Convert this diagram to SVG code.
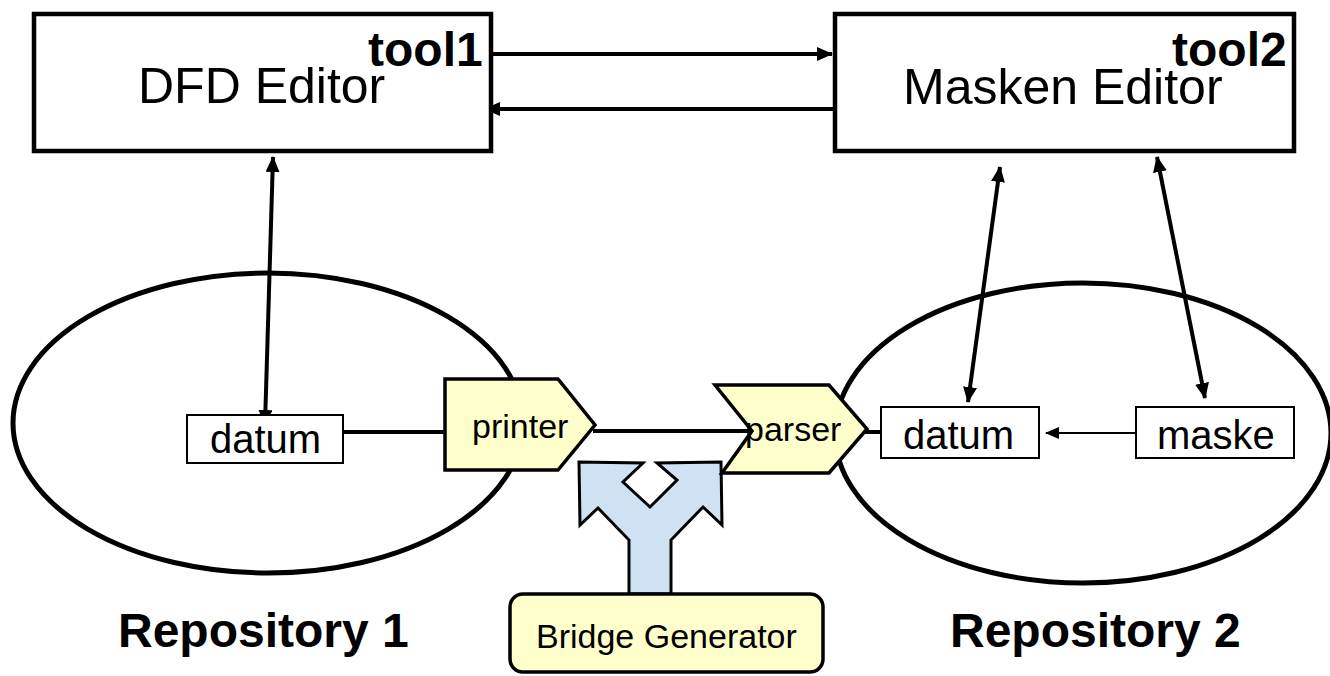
<svg xmlns="http://www.w3.org/2000/svg" width="1330" height="676" viewBox="0 0 1330 676">
<style>
text{font-family:"Liberation Sans",Arial,sans-serif;fill:#000}
.big{fill:#fff;stroke:#000;stroke-width:4.5}
.small{fill:#fff;stroke:#000;stroke-width:2}
.yel{fill:#ffffcc;stroke:#000;stroke-width:3.5;stroke-linejoin:miter}
.repo{fill:none;stroke:#000;stroke-width:5}
.c{stroke:#000;stroke-width:4;fill:none}
.ct{stroke:#000;stroke-width:2;fill:none}
</style>
<defs>
<marker id="ah" markerUnits="userSpaceOnUse" markerWidth="16" markerHeight="14" refX="15" refY="7" orient="auto-start-reverse" viewBox="0 0 16 14">
<path d="M0,0 L16,7 L0,14 z" fill="#000"/>
</marker>
<marker id="ahs" markerUnits="userSpaceOnUse" markerWidth="14" markerHeight="12" refX="13" refY="6" orient="auto-start-reverse" viewBox="0 0 14 12">
<path d="M0,0 L14,6 L0,12 z" fill="#000"/>
</marker>
</defs>
<rect width="1330" height="676" fill="#fff"/>
<g id="repository1">
<ellipse class="repo" cx="268" cy="423" rx="255" ry="150"/>
<text x="118" y="647" font-size="48" font-weight="bold">Repository 1</text>
</g>
<g id="repository2">
<ellipse class="repo" cx="1083" cy="433" rx="248" ry="150"/>
<text x="950" y="647" font-size="48" font-weight="bold">Repository 2</text>
</g>
<g id="connectors">
<line class="c" x1="490" y1="54" x2="832" y2="54" marker-end="url(#ah)"/>
<line class="c" x1="834" y1="109" x2="485" y2="109" marker-end="url(#ah)"/>
<line class="c" x1="273" y1="157" x2="265" y2="425" marker-start="url(#ah)" marker-end="url(#ah)"/>
<line class="c" x1="1000" y1="167" x2="968" y2="402" marker-start="url(#ah)" marker-end="url(#ah)"/>
<line class="c" x1="1157" y1="157" x2="1205" y2="398" marker-start="url(#ah)" marker-end="url(#ah)"/>
<line class="c" x1="343" y1="432" x2="447" y2="432"/>
<line class="c" x1="593" y1="431" x2="752" y2="431"/>
<line class="c" x1="865" y1="432" x2="881" y2="432"/>
<line class="ct" x1="1136" y1="433" x2="1046" y2="433" marker-end="url(#ahs)"/>
</g>
<g id="dfd-editor">
<rect class="big" x="34" y="14" width="457" height="137"/>
<text x="138" y="103" font-size="50">DFD Editor</text>
<text x="368" y="66" font-size="48" font-weight="bold">tool1</text>
</g>
<g id="masken-editor">
<rect class="big" x="835" y="14" width="459" height="137"/>
<text x="903" y="104" font-size="50">Masken Editor</text>
<text x="1172" y="66" font-size="48" font-weight="bold">tool2</text>
</g>
<g id="datum1">
<rect class="small" x="187" y="415" width="156" height="48"/>
<text x="210" y="453" font-size="40">datum</text>
</g>
<g id="datum2">
<rect class="small" x="881" y="407" width="158" height="51"/>
<text x="903" y="449" font-size="40">datum</text>
</g>
<g id="maske">
<rect class="small" x="1136" y="407" width="158" height="51"/>
<text x="1157" y="449" font-size="40">maske</text>
</g>
<g id="printer">
<polygon class="yel" points="445,379 558,379 595,425 558,470 445,470"/>
<text x="472" y="438" font-size="34">printer</text>
</g>
<g id="bridge-arrow">
<polygon fill="#cfe2f3" stroke="#000" stroke-width="3" stroke-linejoin="miter" points="629,594 629,540 598,508 580,525 579,462 643,463 623,482 650,507 677,480 657,463 721,462 722,525 703,507 671,540 671,594"/>
</g>
<g id="parser">
<polygon class="yel" points="715,385 829,385 867,429 829,473 722,473 752,431"/>
<text x="745" y="441" font-size="34">parser</text>
</g>
<g id="bridge-generator">
<rect class="yel" x="510" y="594" width="313" height="78" rx="13" ry="13"/>
<text x="536" y="648" font-size="34">Bridge Generator</text>
</g>
</svg>
